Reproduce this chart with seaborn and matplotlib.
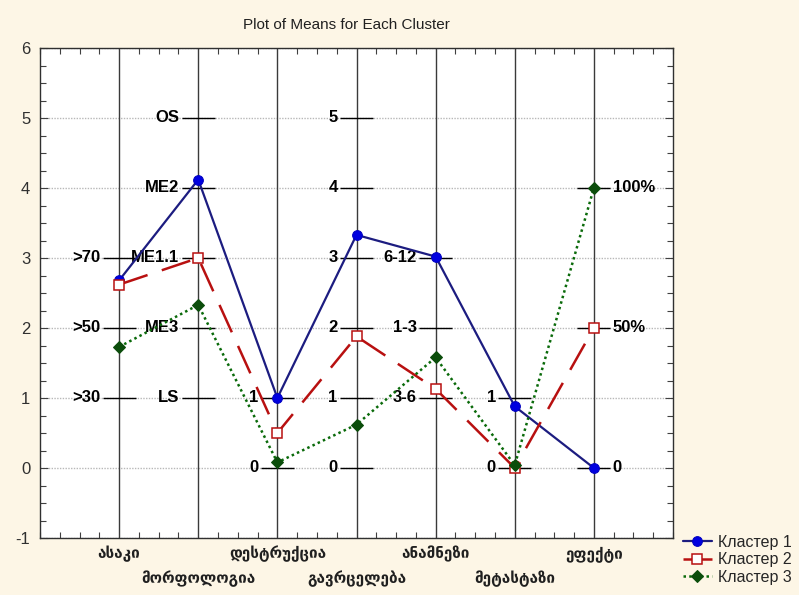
import numpy as np
import pandas as pd
import matplotlib
matplotlib.use("Agg")
import matplotlib.pyplot as plt
import seaborn as sns
from matplotlib.ticker import MultipleLocator

# ---------------- data ----------------
variables = ["ასაკი", "მორფოლოგია", "დესტრუქცია", "გავრცელება",
             "ანამნეზი", "მეტასტაზი", "ეფექტი"]
positions = [1, 2, 3, 4, 5, 6, 7]

cluster_names = ["Кластер 1", "Кластер 2", "Кластер 3"]
cluster1 = [2.68, 4.12, 1.00, 3.33, 3.02, 0.88, 0.00]
cluster2 = [2.62, 3.00, 0.50, 1.88, 1.13, 0.00, 2.00]
cluster3 = [1.73, 2.33, 0.08, 0.62, 1.58, 0.04, 4.00]

# per-axis scale labels (value on the common scale, label text)
axis_tick_values = [[1, 2, 3], [1, 2, 3, 4, 5], [0, 1], [0, 1, 2, 3, 4, 5],
                    [1, 2, 3], [0, 1], [0, 2, 4]]
axis_tick_labels = [[">30", ">50", ">70"], ["LS", "ME3", "ME1.1", "ME2", "OS"],
                    ["0", "1"], ["0", "1", "2", "3", "4", "5"],
                    ["3-6", "1-3", "6-12"], ["0", "1"], ["0", "50%", "100%"]]
label_side = ["left", "left", "left", "left", "left", "left", "right"]

y_ticks = [-1, 0, 1, 2, 3, 4, 5, 6]
title = "Plot of Means for Each Cluster"

# ---------------- style ----------------
sns.set_theme(style="white")
plt.rcParams["font.family"] = ["Liberation Sans", "DejaVu Sans"]

bg = "#fdf6e6"
fig = plt.figure(figsize=(7.99, 5.95), dpi=100, facecolor=bg)
ax = fig.add_axes([40 / 799, 57 / 595, 633 / 799, 490 / 595])
ax.set_facecolor("white")

ax.set_xlim(0, 8)
ax.set_ylim(-1, 6)

# horizontal dotted grid
for yv in y_ticks:
    ax.axhline(yv, color="#b8b8b8", lw=1.0, ls=(0, (1, 1)), zorder=0)

# vertical parallel axes
ax.vlines(positions, -1, 6, color="#3a3a3a", lw=1.0, zorder=1)

# scale ticks and labels on each parallel axis
half = 0.21
for xp, vals, labs, side in zip(positions, axis_tick_values, axis_tick_labels, label_side):
    ax.hlines(vals, xp - half, xp + half, color="black", lw=1.0, zorder=2)
    for v, t in zip(vals, labs):
        if side == "left":
            ax.text(xp - half - 0.03, v, t, ha="right", va="center",
                    fontsize=12, fontweight="bold", color="black", zorder=3)
        else:
            ax.text(xp + half + 0.03, v, t, ha="left", va="center",
                    fontsize=12, fontweight="bold", color="black", zorder=3)

# ---------------- data lines ----------------
df = pd.DataFrame({"pos": positions * 3,
                   "value": cluster1 + cluster2 + cluster3,
                   "cluster": [cluster_names[0]] * 7 + [cluster_names[1]] * 7 + [cluster_names[2]] * 7})

styles = {
    cluster_names[0]: dict(color="#1c1c80", linestyle="-", lw=1.6, marker="o",
                           markersize=7, markerfacecolor="#0000e0", markeredgecolor="#0000c0"),
    cluster_names[1]: dict(color="#b81010", linestyle=(0, (12, 6)), lw=1.8, marker="s",
                           markersize=6.5, markerfacecolor="white", markeredgecolor="#b81010",
                           markeredgewidth=1.1),
    cluster_names[2]: dict(color="#0a6a0a", linestyle=(0, (1, 1.3)), lw=1.8, marker="D",
                           markersize=6, markerfacecolor="#0b4d0b", markeredgecolor="#0b4d0b"),
}
for name in cluster_names:
    sub = df[df["cluster"] == name]
    sns.lineplot(data=sub, x="pos", y="value", ax=ax, sort=False, label=name,
                 zorder=4, **styles[name])

# ---------------- axes formatting ----------------
ax.set_xticks(positions)
ax.set_xticklabels([])
xtrans = ax.get_xaxis_transform()
for i, (xp, v) in enumerate(zip(positions, variables)):
    yoff = -0.032 if i % 2 == 0 else -0.083
    ax.text(xp, yoff, v, transform=xtrans, ha="center", va="center",
            fontsize=11, fontweight="bold", family=["DejaVu Sans"], color="#202020")
ax.set_yticks(y_ticks)
ax.set_yticklabels([str(v) for v in y_ticks], fontsize=12, color="#303030")
ax.set_xlabel("")
ax.set_ylabel("")

ax.xaxis.set_minor_locator(MultipleLocator(0.25))
ax.yaxis.set_minor_locator(MultipleLocator(0.25))
ax.tick_params(axis="x", which="major", length=0, pad=6, top=False)
ax.tick_params(axis="x", which="minor", direction="in", length=4, top=True, bottom=True,
               width=0.8, color="#404040")
ax.tick_params(axis="y", which="major", direction="in", length=6, left=True, right=True,
               pad=7, width=0.8, color="#404040")
ax.tick_params(axis="y", which="minor", direction="in", length=4, left=True, right=True,
               width=0.8, color="#404040")
for sp in ax.spines.values():
    sp.set_color("#303030")
    sp.set_linewidth(1.0)

fig.text(346 / 799, 1 - 25 / 595, title, ha="center", va="center", fontsize=11, color="#202020")

handles, labels = ax.get_legend_handles_labels()
ax.get_legend().remove()
fig.legend(handles, labels, loc="upper left", bbox_to_anchor=(683 / 799, 1 - 535 / 595),
           frameon=False, fontsize=11.5, handlelength=1.8, labelspacing=0.15,
           borderaxespad=0, borderpad=0, handletextpad=0.4)

fig.savefig("out.png", dpi=100, facecolor=bg)
